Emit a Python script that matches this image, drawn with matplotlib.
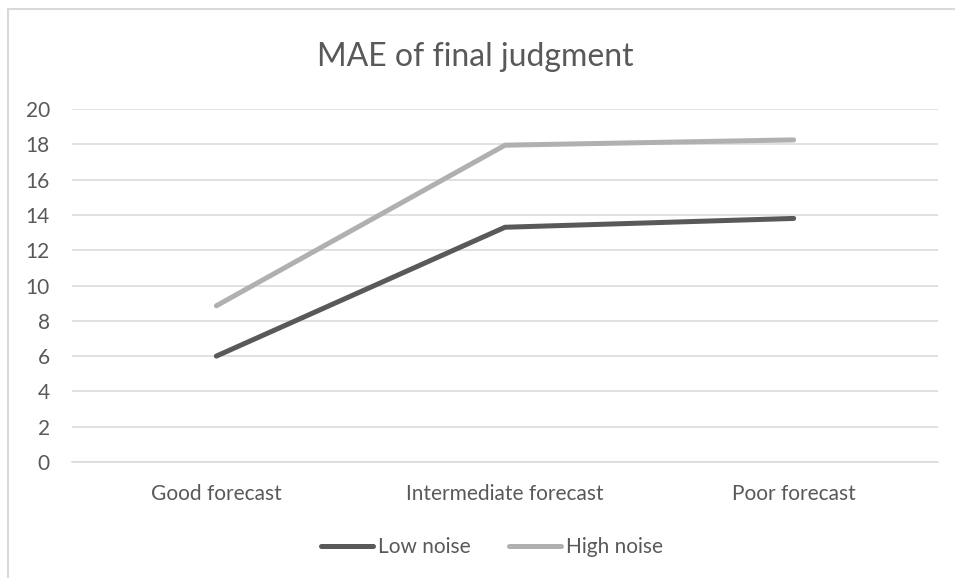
import matplotlib.pyplot as plt
import matplotlib.lines as mlines

categories = ["Good forecast", "Intermediate forecast", "Poor forecast"]
low_noise = [6.0, 13.3, 13.8]
high_noise = [8.85, 17.95, 18.25]
y_ticks = list(range(0, 21, 2))

_TEXT_COLOR = "#595959"
_GRID_COLOR = "#d9d9d9"
_LOW_COLOR = "#595959"
_HIGH_COLOR = "#b0b0b0"


def _main():
    plt.rcParams["font.family"] = ["Lato", "DejaVu Sans"]
    fig = plt.figure(figsize=(9.55, 5.78), dpi=100)
    ax = fig.add_axes([72 / 955, 1 - 462 / 578, (938 - 72) / 955, (462 - 109) / 578])

    x = list(range(len(categories)))
    ax.plot(x, low_noise, color=_LOW_COLOR, linewidth=3.6, solid_capstyle="round",
            solid_joinstyle="round", label="Low noise")
    ax.plot(x, high_noise, color=_HIGH_COLOR, linewidth=3.6, solid_capstyle="round",
            solid_joinstyle="round", label="High noise")

    ax.set_xlim(-0.5, len(categories) - 0.5)
    ax.set_ylim(0, 20)
    ax.set_yticks(y_ticks)
    ax.set_xticks(x)
    ax.set_xticklabels(categories)
    ax.tick_params(axis="both", length=0, colors=_TEXT_COLOR, labelsize=15)
    ax.tick_params(axis="y", pad=16)
    ax.tick_params(axis="x", pad=16)
    ax.grid(axis="y", color=_GRID_COLOR, linewidth=1.1)
    ax.set_axisbelow(True)
    for side in ("top", "right", "left"):
        ax.spines[side].set_visible(False)
    ax.spines["bottom"].set_color(_GRID_COLOR)
    ax.spines["bottom"].set_linewidth(1.1)

    fig.text(475 / 955, 1 - 57 / 578, "MAE of final judgment", ha="center", va="center",
             fontsize=23, color=_TEXT_COLOR)

    fig.legend(loc="center", bbox_to_anchor=(492 / 955, 1 - 547 / 578), ncol=2,
               frameon=False, fontsize=15, labelcolor=_TEXT_COLOR,
               handlelength=2.5, handletextpad=0.25, columnspacing=1.8)

    # light frame on the top and left edges only, as in the source image
    fig.add_artist(mlines.Line2D([8 / 955, 1], [1 - 9 / 578, 1 - 9 / 578],
                                 transform=fig.transFigure, color=_GRID_COLOR, linewidth=1.5))
    fig.add_artist(mlines.Line2D([8 / 955, 8 / 955], [0, 1 - 9 / 578],
                                 transform=fig.transFigure, color=_GRID_COLOR, linewidth=1.5))

    fig.savefig("out.png", dpi=100)


if __name__ == "__main__":
    _main()
